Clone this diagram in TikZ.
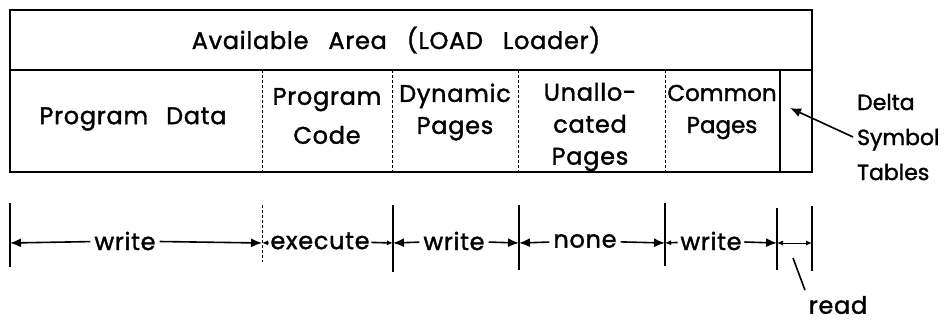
\documentclass[tikz,border=0pt]{standalone}
\usepackage{fontspec}
\setmainfont{Poppins}[FakeBold=1.5, LetterSpace=3]
\usetikzlibrary{arrows.meta,positioning,calc}

\tikzset{
  divider/.style={line width=0.7pt, densely dashed},
  small tip/.style={>={Latex[length=6pt,width=5pt]}},
  tight/.style={font=\fontsize{23}{32}\selectfont\addfontfeatures{LetterSpace=0}},
}

\begin{document}
\begin{tikzpicture}[x=1pt, y=-1pt, >={Latex[length=11pt,width=9pt]}, line width=1.6pt,
    font=\fontsize{24}{32}\selectfont]
    \useasboundingbox (0,0) rectangle (944,324);

    % the memory map
    \draw (10,10) rectangle (812,172);
    \draw (10,70) -- (812,70);
    \foreach \xd in {262,392,518,665}
        \draw[divider] (\xd,70) -- (\xd,172);
    \draw (780,70) -- (780,172);

    \node (avail) at (396,40) {Available\hspace{20pt}Area\hspace{20pt}(LOAD\hspace{20pt}Loader)};
    \node (pdata) at (133,119) {Program\hspace{18pt}Data};
    \node[align=center] (pcode) at (327,116) {Program\\[7pt]Code};
    \node[align=center] (dyn) at (455,112) {Dynamic\\Pages};
    \node[align=center] (unal) at (590,127) {Unallo-\\cated\\Pages};
    \node[align=center, tight] (comm) at (722,112) {Common\\Pages};

    \node[align=left, anchor=west, font=\fontsize{22}{35}\selectfont\addfontfeatures{LetterSpace=0}]
        (delta) at (853,137) {Delta\\Symbol\\Tables};
    \coordinate (dtip) at (790,108);
    \draw[->] (delta.west) -- (dtip);

    % access rights below
    \foreach \nm/\xt/\ya/\yb in {t0/10/203/267, t2/393/205/272, t3/519/205/270,
                                t4/665/203/266, t5/777/208/270, t6/812/206/271} {
        \draw (\xt,\ya) -- (\xt,\yb);
        \coordinate (\nm) at (\xt,243);
    }
    \draw[divider] (262,205) -- (262,262);
    \coordinate (t1) at (262,243);

    \node (w1) at (125,241) {write};
    \draw[->] (w1) -- (t0);
    \draw[->] (w1) -- (t1);

    \node[inner sep=1pt] (exe) at (320,241) {execute};
    \draw[->, small tip] (exe) -- (t1);
    \draw[->, small tip] (exe) -- (t2);

    \node (w2) at (454,241) {write};
    \draw[->] (w2) -- (t2);
    \draw[->] (w2) -- (t3);

    \node (none) at (585,241) {none};
    \draw[->] (none) -- (t3);
    \draw[->] (none) -- (t4);

    \node[inner sep=2pt] (w3) at (711,241) {write};
    \draw[->, small tip] (w3) -- (t4);
    \draw[->] (w3) -- (t5);

    \draw[<->, small tip, line width=1pt] (t5) -- (t6);
    \node[inner sep=1pt] (read) at (838,305) {read};
    \coordinate (rtip) at (793,258);
    \draw (read.north west) ++(-2,-4) -- (rtip);
\end{tikzpicture}
\end{document}
